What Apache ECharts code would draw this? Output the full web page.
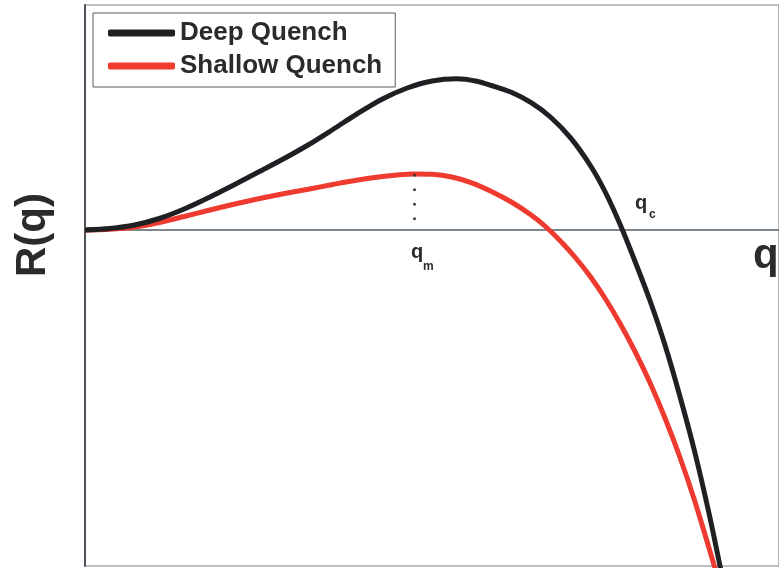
<!DOCTYPE html>
<html>
<head>
<meta charset="utf-8">
<script src="https://cdn.jsdelivr.net/npm/echarts@6/dist/echarts.min.js"></script>
<style>html,body{margin:0;padding:0;background:#fff;}#c{width:779px;height:568px;}</style>
</head>
<body>
<div id="c"></div>
<script>
// Values (arbitrary units)
var seriesNames = ['Deep Quench', 'Shallow Quench'];
var qDeep = [0, 0.357, 0.714, 1.071, 1.429, 1.786, 2.143, 2.5, 2.857, 3.214, 3.571, 3.929, 4.286, 4.643, 5.0, 5.357, 5.643, 5.857, 6.143, 6.429, 6.714, 7.0, 7.286, 7.5, 7.714, 7.929, 8.143, 8.357, 8.571, 8.786, 9.0, 9.214];
var rDeep = [0, 0.015, 0.05, 0.115, 0.21, 0.325, 0.45, 0.58, 0.71, 0.85, 1.005, 1.165, 1.31, 1.42, 1.49, 1.512, 1.488, 1.445, 1.377, 1.273, 1.125, 0.918, 0.64, 0.375, 0.05, -0.32, -0.71, -1.15, -1.66, -2.22, -2.86, -3.58];
var qShallow = [0, 0.357, 0.714, 1.071, 1.429, 1.786, 2.143, 2.5, 2.857, 3.214, 3.571, 3.929, 4.286, 4.5, 4.743, 5.0, 5.286, 5.571, 5.857, 6.143, 6.429, 6.643, 6.857, 7.071, 7.286, 7.5, 7.714, 7.929, 8.143, 8.357, 8.571, 8.786, 9.0, 9.186];
var rShallow = [0, 0.007, 0.03, 0.075, 0.135, 0.197, 0.257, 0.312, 0.362, 0.407, 0.455, 0.50, 0.535, 0.55, 0.56, 0.557, 0.53, 0.472, 0.385, 0.28, 0.15, 0.03, -0.115, -0.28, -0.47, -0.69, -0.94, -1.22, -1.53, -1.88, -2.27, -2.71, -3.20, -3.64];
var qM = 4.743, rM = 0.56;

function pairs(xs, ys) { return xs.map(function (x, i) { return [x, ys[i]]; }); }

var chart = echarts.init(document.getElementById('c'), null, {renderer: 'canvas'});
var font = '"Liberation Sans", Arial, Helvetica, sans-serif';
chart.setOption({
  animation: false,
  backgroundColor: '#ffffff',
  grid: {left: 85, top: 5, right: -6, bottom: 2, show: true, borderColor: '#7d838c', borderWidth: 1.2, backgroundColor: 'transparent'},
  legend: {
    left: 93, top: 13, orient: 'vertical',
    padding: [7, 13, 8, 15], itemGap: 7,
    itemWidth: 67, itemHeight: 7, icon: 'roundRect',
    borderColor: '#555a62', borderWidth: 1,
    textStyle: {fontSize: 26, fontWeight: 'bold', fontFamily: font, color: '#2b2b2e'},
    data: seriesNames
  },
  xAxis: {
    type: 'value', min: 0, max: 10,
    axisLine: {show: true, onZero: true, lineStyle: {color: '#56606a', width: 1.5}},
    axisTick: {show: false}, axisLabel: {show: false}, splitLine: {show: false}
  },
  yAxis: {
    type: 'value', min: -3.36, max: 2.25,
    axisLine: {show: true, lineStyle: {color: '#4d525b', width: 2}},
    axisTick: {show: false}, axisLabel: {show: false}, splitLine: {show: false}
  },
  series: [
    {
      name: seriesNames[0], type: 'line', data: pairs(qDeep, rDeep),
      showSymbol: false, symbol: 'none', smooth: 0.3, clip: true,
      lineStyle: {color: '#1f2023', width: 5}, itemStyle: {color: '#1f2023'}, z: 3
    },
    {
      name: seriesNames[1], type: 'line', data: pairs(qShallow, rShallow),
      showSymbol: false, symbol: 'none', smooth: 0.3, clip: true,
      lineStyle: {color: '#ef3b2f', width: 5}, itemStyle: {color: '#ef3b2f'}, z: 2,
      markLine: {
        silent: true, symbol: 'none', label: {show: false},
        lineStyle: {color: '#333', type: [2.5, 12], width: 2.5},
        data: [[{coord: [qM, rM]}, {coord: [qM, 0]}]]
      }
    }
  ],
  graphic: [
    {type: 'text', x: 33, y: 235, rotation: Math.PI / 2,
      style: {text: 'R(q)', font: 'bold 42px ' + font, fill: '#2b2b2e', align: 'center', verticalAlign: 'middle'}},
    {type: 'text', x: 753, y: 256,
      style: {text: 'q', font: 'bold 42px ' + font, fill: '#2b2b2e', align: 'left', verticalAlign: 'middle'}},
    {type: 'text', x: 411, y: 252,
      style: {text: 'q', font: 'bold 20px ' + font, fill: '#2b2b2e', align: 'left', verticalAlign: 'middle'}},
    {type: 'text', x: 423, y: 267,
      style: {text: 'm', font: 'bold 12px ' + font, fill: '#2b2b2e', align: 'left', verticalAlign: 'middle'}},
    {type: 'text', x: 635, y: 203,
      style: {text: 'q', font: 'bold 20px ' + font, fill: '#2b2b2e', align: 'left', verticalAlign: 'middle'}},
    {type: 'text', x: 649, y: 215,
      style: {text: 'c', font: 'bold 12px ' + font, fill: '#2b2b2e', align: 'left', verticalAlign: 'middle'}}
  ]
});
</script>
</body>
</html>
